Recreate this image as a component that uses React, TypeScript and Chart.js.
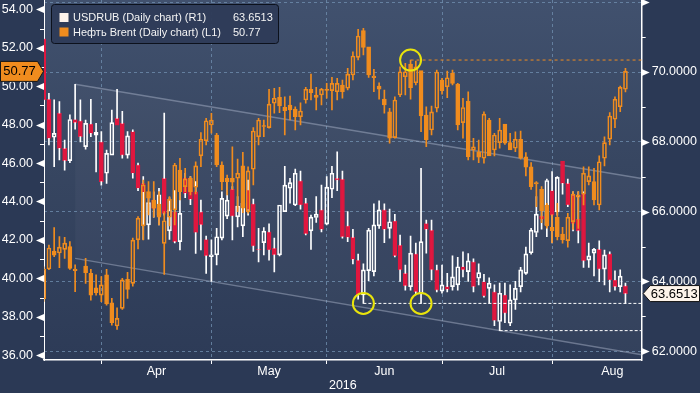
import React, { useEffect, useRef } from 'react';
import { Chart, registerables } from 'chart.js';

Chart.register(...registerables);

const FONT = '"Liberation Sans", Arial, sans-serif';
const ORANGE = '#f08c1e';
const RED = '#e0173f';
const WHITE = '#ffffff';
const GRID = 'rgba(110,140,172,0.8)';
const CHANNEL = 'rgba(165,176,198,0.5)';
const YELLOW = '#e9e40c';

// ---- trading-day index axis: 0 = 17 Mar 2016 ... 111 = 19 Aug 2016
const monthStarts = [11, 32, 54, 76, 97, 120];
const monthNames = ['Apr', 'May', 'Jun', 'Jul', 'Aug'];
const yearLabel = '2016';
const leftTicks = [36, 37, 38, 39, 40, 41, 42, 43, 44, 45, 46, 47, 48, 49, 50, 51, 52, 53, 54];
const rightTicks = [62, 63, 64, 65, 66, 67, 68, 69, 70, 71, 72];

// ---- Нефть Brent (left axis)
const brentOpen = [
  38.93, 40.49, 41.42, 41.32, 41.51, 41.65, 40.49, null, 40.64, 40.26,
  39.51, 39.13, 40.18, 38.73, 37.52, 38.44, 39.95, 39.74, 42.0, 42.73,
  44.51, 44.08, 43.87, 41.82, 43.18, 43.56, 45.64, 44.77, 45.21, 44.74,
  46.37, 47.16, 47.98, 47.46, 45.9, 45.21, 45.21, 45.21, 45.85, 43.47,
  45.68, 47.37, 47.93, 47.84, 49.11, 49.42, 48.9, 49.02, 48.81, 48.41,
  49.28, 49.84, 49.54, 49.54, 49.82, 49.77, 49.71, 50.06, 49.89, 50.58,
  51.5, 52.89, 52.05, 50.53, 50.01, 49.33, 48.67, 47.32, 49.54, 50.49,
  51.15, 50.18, 50.81, 48.5, 47.72, 48.85, 50.32, 49.97, 50.67, 50.11,
  48.1, 49.23, 46.68, 46.59, 46.25, 48.24, 46.68, 47.06, 48.03, 47.06,
  46.77, 47.24, 46.33, 45.81, 44.98, 44.63, 43.82, 42.66, 43.18, 42.31,
  41.96, 42.95, 44.22, 44.39, 45.03, 45.03, 43.82, 46.25, 47.24, 48.28,
  48.93, 49.84,
];
const brentHigh = [
  40.6, 41.73, 42.64, 42.17, 42.14, 41.91, 40.7, null, 41.04, 40.47,
  40.18, 40.09, 40.47, 38.96, 38.47, 40.0, 40.32, 42.1, 43.21, 45.12,
  45.03, 45.03, 44.51, 43.47, 44.25, 45.99, 46.25, 45.73, 45.29, 46.07,
  47.58, 48.33, 48.59, 47.55, 46.07, 45.38, 46.85, 46.21, 46.56, 45.81,
  47.84, 48.33, 48.24, 49.84, 49.89, 49.94, 49.45, 49.49, 48.93, 49.14,
  49.94, 50.63, 49.94, 49.89, 50.15, 50.46, 50.41, 50.32, 50.93, 51.79,
  52.96, 53.01, 52.05, 50.88, 50.18, 49.8, 48.85, 49.45, 51.01, 51.19,
  51.36, 51.3, 50.81, 48.93, 48.97, 50.84, 50.41, 50.79, 50.84, 50.15,
  49.37, 49.7, 47.29, 47.2, 48.66, 48.33, 47.55, 48.33, 48.03, 47.55,
  47.63, 47.67, 46.54, 46.02, 45.03, 44.77, 43.91, 43.3, 43.91, 42.66,
  43.38, 44.51, 44.51, 45.81, 45.81, 45.72, 46.37, 47.37, 48.62, 49.45,
  50.0, 50.93,
];
const brentLow = [
  38.8, 40.45, 41.13, 40.56, 41.04, 40.47, 39.31, null, 39.74, 38.87,
  39.13, 38.79, 38.61, 37.57, 37.35, 38.39, 38.96, 39.6, 41.53, 42.0,
  43.3, 43.18, 42.78, 40.21, 42.73, 42.78, 44.08, 44.51, 44.34, 44.39,
  45.81, 46.94, 47.55, 45.81, 44.6, 44.34, 44.63, 43.47, 43.42, 43.39,
  44.86, 46.94, 47.37, 47.81, 48.59, 48.62, 47.46, 48.24, 47.72, 47.98,
  49.11, 49.28, 48.76, 49.02, 49.37, 48.76, 49.28, 49.37, 49.8, 50.32,
  51.36, 51.62, 50.46, 49.71, 49.32, 48.59, 47.03, 47.29, 49.45, 49.54,
  49.32, 50.06, 47.63, 46.85, 47.46, 48.66, 49.59, 49.4, 50.06, 47.72,
  47.29, 46.16, 46.16, 46.02, 45.99, 46.37, 46.37, 46.77, 46.97, 46.68,
  46.59, 46.2, 45.33, 44.63, 43.73, 42.9, 42.61, 41.86, 42.0, 41.83,
  41.62, 42.55, 42.6, 43.82, 44.86, 43.82, 43.56, 45.85, 46.94, 47.84,
  48.68, 49.7,
];
const brentClose = [
  40.49, 41.58, 41.21, 41.63, 41.83, 40.52, 40.4, null, 40.3, 39.13,
  39.25, 39.66, 38.67, 37.69, 37.92, 39.92, 39.43, 41.99, 43.13, 44.86,
  44.17, 43.65, 43.18, 43.0, 44.11, 45.9, 44.51, 45.17, 44.51, 45.85,
  47.24, 48.2, 48.24, 45.9, 45.03, 45.03, 45.0, 45.47, 43.65, 45.59,
  47.67, 48.24, 47.9, 49.07, 49.37, 48.97, 48.72, 48.76, 48.41, 48.71,
  49.84, 49.66, 49.42, 49.84, 49.78, 50.15, 50.15, 49.71, 50.63, 51.57,
  52.61, 52.02, 50.58, 50.44, 49.84, 49.02, 47.29, 49.28, 50.75, 50.75,
  49.92, 51.01, 48.45, 47.22, 48.66, 50.74, 49.77, 50.44, 50.15, 47.98,
  48.89, 46.33, 46.85, 46.3, 48.55, 46.37, 47.46, 47.72, 47.03, 46.68,
  47.24, 46.25, 45.78, 44.77, 44.91, 43.52, 42.73, 42.48, 42.17, 42.0,
  43.18, 44.39, 44.34, 45.47, 45.33, 44.08, 46.07, 47.06, 48.45, 49.32,
  49.94, 50.77,
];

// ---- USDRUB (right axis)
const rubOpen = [
  70.95, 69.22, 68.13, 68.82, 67.81, 67.46, 68.64, 68.6, 67.86, 68.51,
  68.19, 68.0, 67.1, 67.62, 68.67, 68.53, 67.62, 68.29, 67.34, 66.8,
  65.62, 66.33, 65.9, 66.95, 65.45, 65.99, 65.14, 66.95, 66.9, 66.57,
  65.99, 65.2, 64.71, 64.76, 65.24, 65.87, 66.64, 65.85, 65.59, 66.62,
  66.22, 64.92, 65.11, 65.42, 64.95, 64.76, 66.0, 66.67, 66.19, 66.88,
  66.24, 65.45, 65.83, 66.05, 65.64, 66.64, 66.95, 66.93, 65.59, 65.26,
  64.61, 63.61, 64.31, 64.28, 65.59, 66.05, 65.52, 65.73, 65.04, 64.23,
  63.85, 64.79, 63.66, 65.66, 65.47, 64.33, 63.72, 63.85, 63.85, 63.9,
  64.42, 64.28, 64.56, 64.09, 63.99, 63.8, 63.7, 62.85, 63.61, 62.8,
  63.47, 63.85, 64.23, 64.82, 65.4, 65.87, 65.62, 66.6, 65.99, 67.45,
  66.81, 66.48, 65.78, 66.5, 64.61, 64.81, 64.92, 64.35, 64.79, 64.04,
  63.85, 63.87,
];
const rubHigh = [
  71.23, 69.39, 69.2, 69.15, 68.05, 68.77, 69.65, 69.2, 68.62, 69.22,
  68.53, 68.29, 67.76, 68.91, 69.5, 68.87, 68.29, 68.34, 67.39, 67.0,
  66.43, 66.57, 66.67, 68.82, 66.4, 66.6, 66.67, 67.1, 67.0, 66.86,
  66.33, 65.3, 65.19, 65.52, 66.57, 66.86, 66.72, 66.43, 66.5, 66.9,
  66.36, 65.52, 65.54, 65.65, 65.24, 66.19, 67.3, 66.95, 67.22, 67.16,
  66.38, 65.9, 66.43, 66.76, 67.0, 67.3, 67.71, 67.16, 66.0, 65.49,
  64.78, 64.5, 65.52, 66.22, 66.31, 66.22, 66.07, 65.92, 65.33, 64.47,
  65.3, 65.1, 67.24, 65.76, 65.76, 64.47, 64.47, 64.23, 64.73, 64.69,
  64.85, 64.8, 64.65, 64.5, 64.2, 64.1, 63.9, 63.95, 63.95, 63.9,
  64.0, 64.4, 64.98, 65.52, 66.43, 66.07, 66.93, 67.15, 67.0, 67.45,
  66.93, 66.57, 66.57, 66.57, 65.1, 64.95, 65.16, 64.9, 64.85, 64.3,
  64.33, 63.95,
];
const rubLow = [
  69.1, 67.91, 67.29, 67.48, 67.19, 67.4, 68.36, 68.0, 67.79, 68.15,
  67.14, 66.76, 66.81, 67.62, 68.48, 67.53, 67.53, 66.96, 66.6, 65.2,
  65.21, 65.84, 65.62, 65.9, 65.2, 65.1, 64.9, 66.4, 66.2, 64.8,
  64.9, 64.23, 64.0, 64.47, 65.19, 65.8, 65.19, 65.56, 65.28, 65.9,
  64.86, 64.56, 64.76, 64.61, 64.27, 64.73, 66.0, 66.24, 66.17, 66.07,
  65.33, 64.92, 65.69, 65.42, 65.62, 66.4, 66.6, 65.24, 65.14, 64.5,
  63.49, 63.37, 64.02, 64.16, 65.52, 65.11, 65.24, 64.7, 64.0, 63.75,
  63.75, 63.63, 63.37, 64.81, 64.04, 63.7, 63.66, 63.7, 63.75, 63.75,
  64.13, 64.0, 63.7, 63.9, 63.55, 63.37, 62.73, 62.59, 62.82, 62.73,
  63.2, 63.7, 64.2, 64.78, 65.28, 65.5, 65.28, 65.1, 65.9, 66.5,
  66.14, 65.45, 65.1, 64.4, 64.4, 64.16, 63.99, 63.9, 63.7, 63.75,
  63.7, 63.37,
];
const rubClose = [
  69.2, 68.1, 68.24, 67.81, 67.46, 68.64, 68.55, 68.15, 68.53, 68.24,
  68.27, 66.86, 67.67, 68.55, 68.48, 67.62, 68.17, 67.1, 66.67, 66.55,
  66.26, 66.09, 66.48, 65.95, 66.05, 65.14, 65.95, 66.52, 66.35, 65.4,
  65.62, 64.73, 64.76, 65.28, 66.38, 66.33, 65.87, 66.16, 66.24, 66.05,
  65.01, 64.9, 65.44, 64.9, 64.76, 66.19, 66.76, 66.83, 67.1, 66.19,
  65.36, 65.84, 65.93, 65.49, 66.7, 67.1, 66.9, 65.28, 65.26, 64.63,
  63.61, 64.33, 65.47, 65.62, 66.05, 65.49, 65.71, 64.73, 64.33, 63.87,
  64.81, 63.7, 65.14, 65.49, 64.33, 63.75, 63.9, 63.77, 64.13, 64.42,
  64.33, 64.59, 63.85, 64.25, 63.58, 63.95, 62.88, 63.66, 63.09, 63.47,
  63.8, 64.33, 64.79, 65.47, 65.93, 65.78, 66.89, 65.9, 66.98, 66.81,
  66.19, 65.66, 65.45, 64.59, 64.73, 64.92, 64.35, 64.76, 64.04, 63.85,
  64.15, 63.6513,
];

// ---- annotations (values)
const channelX = [6, 114.1];
const channelUpper = [69.65, 66.95];
const channelLower = [64.66, 61.9];
const brentMarkIdx = [70];
const rubMarkIdx = [61, 72];
const rubSupportIdx = [61, 87];
const legendNames = ['USDRUB (Daily chart) (R1)', 'Нефть Brent (Daily chart) (L1)'];

const X_MIN = 0.06;
const X_MAX = 114.1;

const noPad = () => ({ left: 0, top: 0, right: 0, bottom: 0 });

function candles(o: any[], h: any[], l: any[], c: any[]) {
  const body: any[] = [], hi: any[] = [], lo: any[] = [];
  o.forEach((ov, i) => {
    if (ov == null) return;
    const cv = c[i];
    const top = Math.max(ov, cv), bot = Math.min(ov, cv);
    const up = cv >= ov;
    body.push({ x: i, y: [bot, top], up });
    if (h[i] > top) hi.push({ x: i, y: [top, h[i]], up });
    if (l[i] < bot) lo.push({ x: i, y: [l[i], bot], up });
  });
  return { body, hi, lo };
}

function candleDatasets(o: any[], h: any[], l: any[], c: any[], upColor: string, downColor: string, wick: string, yAxisID: string, order: number) {
  const d = candles(o, h, l, c);
  const wickSet = (data: any[]) => ({
    type: 'bar', data, yAxisID, xAxisID: 'x', order, grouped: false,
    barPercentage: 1, categoryPercentage: 1, maxBarThickness: 1,
    backgroundColor: wick, borderWidth: 0, clip: 0,
  });
  return [
    wickSet(d.hi),
    wickSet(d.lo),
    {
      type: 'bar', data: d.body, yAxisID, xAxisID: 'x', order, grouped: false,
      barPercentage: 1, categoryPercentage: 1, maxBarThickness: 4, minBarLength: 1,
      backgroundColor: (ctx: any) => (ctx.raw && ctx.raw.up ? 'rgba(0,0,0,0)' : downColor),
      borderColor: (ctx: any) => (ctx.raw && ctx.raw.up ? upColor : downColor),
      borderWidth: 1, borderSkipped: false, clip: 0,
    },
  ];
}

const decor = {
  id: 'decor',
  beforeDraw(chart: any) {
    const { ctx, chartArea: a, width, height } = chart;
    ctx.save();
    ctx.fillStyle = '#2b3955';
    ctx.fillRect(0, 0, width, height);
    const g = ctx.createLinearGradient(0, a.top, 0, a.bottom);
    g.addColorStop(0, '#41516e');
    g.addColorStop(0.45, '#374661');
    g.addColorStop(1, '#2d3b57');
    ctx.fillStyle = g;
    ctx.fillRect(a.left, a.top, a.right - a.left, a.bottom - a.top);
    ctx.restore();
  },
  afterDraw(chart: any) {
    const { ctx, chartArea: a, scales } = chart;
    const yL = scales.yL, yR = scales.yR;
    ctx.save();
    ctx.fillStyle = WHITE;
    ctx.strokeStyle = WHITE;
    ctx.lineWidth = 1;
    // axis markers: flags for labelled ticks, short dashes for minor ticks
    for (const t of yL.ticks) {
      const y = Math.round(yL.getPixelForValue(t.value)) + 0.5;
      if (t.value % 2 === 0) {
        ctx.beginPath();
        ctx.moveTo(a.left, y - 3.5);
        ctx.lineTo(a.left, y + 3.5);
        ctx.lineTo(a.left - 8, y);
        ctx.closePath();
        ctx.fill();
      } else {
        ctx.beginPath();
        ctx.moveTo(a.left - 4, y);
        ctx.lineTo(a.left, y);
        ctx.stroke();
      }
    }
    for (const t of yR.ticks) {
      const y = Math.round(yR.getPixelForValue(t.value)) + 0.5;
      if (t.value % 2 === 0) {
        ctx.beginPath();
        ctx.moveTo(a.right, y - 3.5);
        ctx.lineTo(a.right, y + 3.5);
        ctx.lineTo(a.right + 8, y);
        ctx.closePath();
        ctx.fill();
      } else {
        ctx.beginPath();
        ctx.moveTo(a.right, y);
        ctx.lineTo(a.right + 4, y);
        ctx.stroke();
      }
    }
    // last value tags
    const lastB = brentClose[brentClose.length - 1] as number;
    const lastR = rubClose[rubClose.length - 1] as number;
    const yb = yL.getPixelForValue(lastB);
    ctx.beginPath();
    ctx.moveTo(0.5, yb - 10);
    ctx.lineTo(37.5, yb - 10);
    ctx.lineTo(a.left - 0.5, yb);
    ctx.lineTo(37.5, yb + 10);
    ctx.lineTo(0.5, yb + 10);
    ctx.closePath();
    ctx.fillStyle = ORANGE;
    ctx.fill();
    ctx.strokeStyle = '#141414';
    ctx.stroke();
    ctx.fillStyle = '#000';
    ctx.font = '13px ' + FONT;
    ctx.textAlign = 'center';
    ctx.textBaseline = 'middle';
    ctx.fillText(lastB.toFixed(2), 19.5, yb + 0.5);

    const yr = yR.getPixelForValue(lastR);
    ctx.beginPath();
    ctx.moveTo(a.right + 1.5, yr);
    ctx.lineTo(a.right + 8.5, yr - 8);
    ctx.lineTo(699.5, yr - 8);
    ctx.lineTo(699.5, yr + 8);
    ctx.lineTo(a.right + 8.5, yr + 8);
    ctx.closePath();
    ctx.fillStyle = '#fdf4ea';
    ctx.fill();
    ctx.strokeStyle = '#141414';
    ctx.stroke();
    ctx.fillStyle = '#000';
    ctx.textAlign = 'left';
    ctx.fillText(lastR.toFixed(4), a.right + 9, yr + 0.5);

    // legend box
    const lx = 51.5, ly = 4.5, lw = 227, lh = 39;
    ctx.beginPath();
    if (ctx.roundRect) ctx.roundRect(lx, ly, lw, lh, 3); else ctx.rect(lx, ly, lw, lh);
    ctx.fillStyle = 'rgba(46,60,89,0.97)';
    ctx.fill();
    ctx.strokeStyle = '#0c111c';
    ctx.stroke();
    const rows = [
      { name: legendNames[0], val: lastR.toFixed(4), color: '#fdf3ec', y: 17.5 },
      { name: legendNames[1], val: lastB.toFixed(2), color: ORANGE, y: 32 },
    ];
    ctx.font = '11px ' + FONT;
    ctx.textBaseline = 'middle';
    ctx.textAlign = 'left';
    for (const r of rows) {
      ctx.fillStyle = r.color;
      ctx.fillRect(59.5, r.y - 4.5, 9, 9);
      ctx.fillStyle = '#f4f4f4';
      ctx.fillText(r.name, 73, r.y + 0.5);
      ctx.fillText(r.val, 233, r.y + 0.5);
    }
    ctx.restore();
  },
};

export default function App() {
  const ref = useRef<HTMLCanvasElement>(null);
  useEffect(() => {
    const boundaries = monthStarts.slice(0, monthNames.length);
    const centers = monthNames.map((_, i) => (monthStarts[i] + monthStarts[i + 1]) / 2);
    const labelAt = new Map<number, string>();
    centers.forEach((c, i) => labelAt.set(c, monthNames[i]));
    const xTicks = [...boundaries, ...centers].sort((p, q) => p - q);
    const isBoundary = (v: number) => boundaries.indexOf(v) >= 0;

    const rubSets = candleDatasets(rubOpen, rubHigh, rubLow, rubClose, WHITE, RED, WHITE, 'yR', 3);
    const brentSets = candleDatasets(brentOpen, brentHigh, brentLow, brentClose, ORANGE, ORANGE, ORANGE, 'yL', 2);

    const resLevel = brentHigh[brentMarkIdx[0]] as number;
    const datasets: any[] = [
      {
        type: 'line', data: channelX.map((x, i) => ({ x, y: channelUpper[i] })), yAxisID: 'yR', xAxisID: 'x',
        borderColor: CHANNEL, borderWidth: 1.5, pointRadius: 0, order: 9, clip: 0, fill: false,
      },
      {
        type: 'line', data: channelX.map((x, i) => ({ x, y: channelLower[i] })), yAxisID: 'yR', xAxisID: 'x',
        borderColor: CHANNEL, borderWidth: 1.5, pointRadius: 0, order: 9, clip: 0,
        fill: '-1', backgroundColor: 'rgba(255,255,255,0.03)',
      },
      ...rubSets,
      ...brentSets,
      {
        type: 'line', data: [{ x: brentMarkIdx[0], y: resLevel }, { x: X_MAX, y: resLevel }], yAxisID: 'yL', xAxisID: 'x',
        borderColor: ORANGE, borderWidth: 1, borderDash: [3, 3], pointRadius: 0, order: 1, clip: 0, fill: false,
      },
      ...rubSupportIdx.map((i) => ({
        type: 'line', data: [{ x: i, y: rubLow[i] }, { x: X_MAX, y: rubLow[i] }], yAxisID: 'yR', xAxisID: 'x',
        borderColor: WHITE, borderWidth: 1, borderDash: [3, 2], pointRadius: 0, order: 1, clip: 0, fill: false,
      })),
      {
        type: 'scatter', data: brentMarkIdx.map((i) => ({ x: i, y: brentHigh[i] })), yAxisID: 'yL', xAxisID: 'x',
        pointRadius: 10.5, pointBorderWidth: 2, pointBorderColor: YELLOW, pointBackgroundColor: 'rgba(0,0,0,0)', order: 0, clip: false,
      },
      {
        type: 'scatter', data: rubMarkIdx.map((i) => ({ x: i, y: rubLow[i] })), yAxisID: 'yR', xAxisID: 'x',
        pointRadius: 10.5, pointBorderWidth: 2, pointBorderColor: YELLOW, pointBackgroundColor: 'rgba(0,0,0,0)', order: 0, clip: false,
      },
    ];

    Chart.defaults.font.family = FONT;
    const chart = new Chart(ref.current as HTMLCanvasElement, {
      type: 'bar',
      data: { datasets },
      plugins: [decor],
      options: {
        responsive: false,
        maintainAspectRatio: false,
        animation: false,
        events: [],
        layout: { padding: 0, autoPadding: false },
        plugins: { legend: { display: false }, tooltip: { enabled: false } },
        scales: {
          x: {
            type: 'linear', position: 'bottom', min: X_MIN, max: X_MAX, offset: false,
            afterBuildTicks: (s: any) => { s.ticks = xTicks.map((v) => ({ value: v })); },
            afterFit: (s: any) => {
              s.height = 33; s.paddingLeft = 0; s.paddingRight = 0; s.paddingTop = 0; s.paddingBottom = 0;
              s.getPadding = noPad;
            },
            ticks: {
              autoSkip: false, maxRotation: 0, minRotation: 0, color: WHITE, padding: 0,
              font: { size: 12.5, family: FONT },
              callback: (v: any) => labelAt.get(v) || '',
            },
            grid: {
              offset: false, drawOnChartArea: true, tickLength: 4, lineWidth: 1,
              color: (c: any) => (c.tick && isBoundary(c.tick.value) ? GRID : 'rgba(0,0,0,0)'),
              tickColor: (c: any) => (c.tick && isBoundary(c.tick.value) ? WHITE : 'rgba(0,0,0,0)'),
            },
            border: { display: true, color: WHITE, width: 1.5, dash: [3, 3] },
            title: { display: true, text: yearLabel, color: WHITE, font: { size: 12.5, family: FONT }, padding: 0 },
          },
          yL: {
            type: 'linear', position: 'left', min: 35.753, max: 54.484,
            afterBuildTicks: (s: any) => { s.ticks = leftTicks.map((v) => ({ value: v })); },
            afterFit: (s: any) => {
              s.width = 44; s.paddingTop = 0; s.paddingBottom = 0; s.paddingLeft = 0; s.paddingRight = 0;
              s.getPadding = noPad;
            },
            ticks: {
              color: WHITE, padding: 11, font: { size: 12.5, family: FONT },
              callback: (v: any) => (v % 2 === 0 ? Number(v).toFixed(2) : ''),
            },
            grid: { drawOnChartArea: false, drawTicks: false },
            border: { display: true, color: WHITE, width: 1 },
          },
          yR: {
            type: 'linear', position: 'right', min: 61.748, max: 72.063,
            afterBuildTicks: (s: any) => { s.ticks = rightTicks.map((v) => ({ value: v })); },
            afterFit: (s: any) => {
              s.width = 58.3; s.paddingTop = 0; s.paddingBottom = 0; s.paddingLeft = 0; s.paddingRight = 0;
              s.getPadding = noPad;
            },
            ticks: {
              color: WHITE, padding: 10, font: { size: 12.5, family: FONT },
              callback: (v: any) => (v % 2 === 0 && v < 71 ? Number(v).toFixed(4) : ''),
            },
            grid: {
              drawOnChartArea: true, drawTicks: false, lineWidth: 1,
              color: (c: any) => (c.tick && c.tick.value % 2 === 0 ? GRID : 'rgba(0,0,0,0)'),
            },
            border: { display: true, color: WHITE, width: 1.5, dash: [3, 3] },
          },
        },
      } as any,
    } as any);
    return () => chart.destroy();
  }, []);

  return (
    <div style={{ position: 'fixed', left: 0, top: 0, width: 700, height: 393, background: '#2b3955' }}>
      <canvas ref={ref} width={700} height={393} style={{ display: 'block', width: 700, height: 393 }} />
    </div>
  );
}
